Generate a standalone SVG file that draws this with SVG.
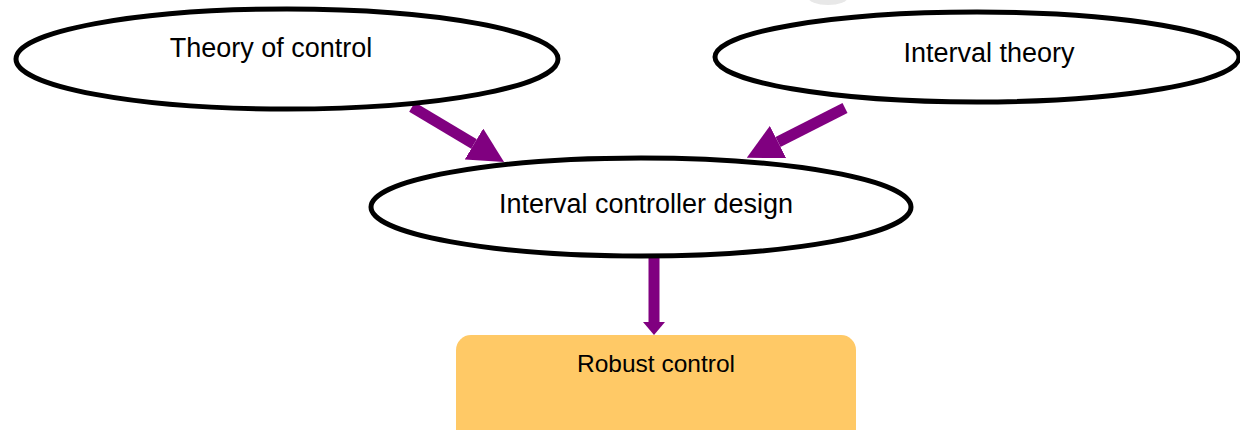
<svg xmlns="http://www.w3.org/2000/svg" width="1240" height="430" viewBox="0 0 1240 430">
  <style>
    .oval { fill: #ffffff; stroke: #000000; stroke-width: 5; }
    .box { fill: #FFC966; stroke: none; }
    .lbl { font-family: "Liberation Sans", Arial, sans-serif; fill: #000000; text-anchor: middle; }
    .big { font-size: 27px; }
    .small { font-size: 24.5px; }
    .conn { stroke: #800080; fill: none; stroke-width: 11; }
  </style>
  <defs>
    <marker id="headBig" markerUnits="userSpaceOnUse" markerWidth="35" markerHeight="36" refX="0" refY="18" orient="auto">
      <path d="M0,0 L35,18 L0,36 Z" fill="#800080"/>
    </marker>
    <marker id="headSmall" markerUnits="userSpaceOnUse" markerWidth="13" markerHeight="22" refX="0" refY="11" orient="auto">
      <path d="M0,0 L13,11 L0,22 Z" fill="#800080"/>
    </marker>
  </defs>
  <rect x="0" y="0" width="1240" height="430" fill="#ffffff"/>
  <ellipse cx="828" cy="-3" rx="20" ry="8" fill="#e8e8e8"/>

  <g id="connectors">
    <line class="conn" x1="412" y1="107" x2="474" y2="144" marker-end="url(#headBig)"/>
    <line class="conn" x1="845" y1="108" x2="778" y2="142" marker-end="url(#headBig)"/>
    <line class="conn" x1="654" y1="258" x2="654" y2="322" stroke-width="10" marker-end="url(#headSmall)"/>
  </g>

  <g id="node-theory-of-control">
    <ellipse class="oval" cx="287" cy="59" rx="271" ry="50"/>
    <text class="lbl big" x="271" y="57">Theory of control</text>
  </g>

  <g id="node-interval-theory">
    <ellipse class="oval" cx="977" cy="57" rx="262" ry="45"/>
    <text class="lbl big" x="989" y="62">Interval theory</text>
  </g>

  <g id="node-interval-controller-design">
    <ellipse class="oval" cx="641" cy="207" rx="270" ry="49"/>
    <text class="lbl big" x="646" y="213">Interval controller design</text>
  </g>

  <g id="node-robust-control">
    <rect class="box" x="456" y="335" width="400" height="115" rx="15" ry="15"/>
    <text class="lbl small" x="656" y="372">Robust control</text>
  </g>
</svg>
